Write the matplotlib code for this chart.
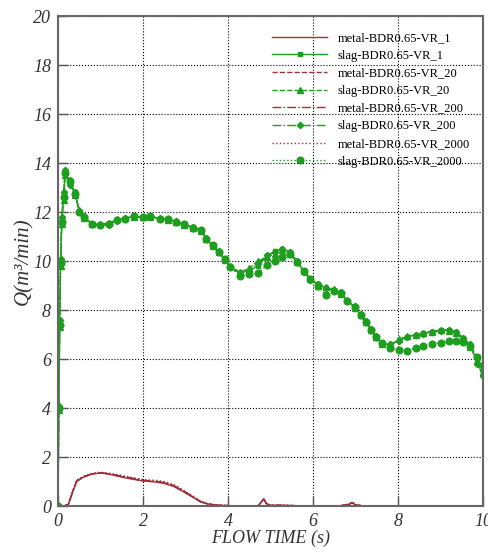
import matplotlib
matplotlib.use("Agg")
import matplotlib.pyplot as plt

# slag flow rate, Q (m3/min) vs flow time (s)
slag_t = [0, 0.02, 0.04, 0.06, 0.09, 0.13, 0.17, 0.28, 0.4, 0.5, 0.62, 0.81, 1.0, 1.2,
          1.38, 1.58, 1.78, 1.99, 2.17, 2.39, 2.58, 2.78, 2.97, 3.18, 3.36, 3.49, 3.64,
          3.78, 3.92, 4.04, 4.28, 4.5, 4.7, 4.92, 5.1, 5.28, 5.45, 5.63, 5.79, 5.94, 6.12,
          6.3, 6.5, 6.65, 6.81, 6.98, 7.12, 7.24, 7.36, 7.48, 7.63, 7.81, 8.03, 8.22, 8.42,
          8.6, 8.81, 9.01, 9.2, 9.36, 9.54, 9.7, 9.87, 10.0]
slag_vr1 = [0, 4.0, 7.5, 10.0, 11.7, 12.7, 13.6, 13.2, 12.8, 12.0, 11.8, 11.5, 11.45, 11.5,
            11.67, 11.73, 11.84, 11.77, 11.84, 11.73, 11.7, 11.6, 11.5, 11.37, 11.27, 10.9, 10.65,
            10.38, 10.08, 9.77, 9.52, 9.6, 9.8, 10.2, 10.4, 10.5, 10.35, 9.97, 9.56, 9.25, 9.05,
            8.91, 8.82, 8.71, 8.38, 8.13, 7.8, 7.52, 7.21, 6.91, 6.64, 6.57, 6.78, 6.91, 6.98,
            7.05, 7.11, 7.18, 7.18, 7.11, 6.84, 6.57, 5.82, 5.35]
slag_vr20 = [0, 3.9, 7.3, 9.8, 11.5, 12.5, 13.5, 13.3, 12.7, 12.1, 11.75, 11.5, 11.5, 11.55,
             11.7, 11.75, 11.8, 11.8, 11.8, 11.75, 11.68, 11.58, 11.48, 11.35, 11.22, 10.88, 10.6,
             10.35, 10.05, 9.8, 9.55, 9.7, 10.0, 10.15, 10.3, 10.45, 10.3, 9.95, 9.6, 9.28, 9.0,
             8.95, 8.85, 8.65, 8.4, 8.1, 7.78, 7.5, 7.2, 6.9, 6.62, 6.55, 6.8, 6.95, 7.0,
             7.08, 7.12, 7.2, 7.15, 7.05, 6.8, 6.5, 5.9, 5.45]
slag_vr200 = [0, 4.1, 7.6, 10.1, 11.8, 12.8, 13.7, 13.1, 12.8, 12.05, 11.82, 11.52, 11.45, 11.48,
              11.65, 11.75, 11.82, 11.78, 11.82, 11.72, 11.7, 11.62, 11.5, 11.38, 11.25, 10.92, 10.62,
              10.4, 10.1, 9.75, 9.5, 9.62, 9.9, 10.25, 10.35, 10.48, 10.38, 10.0, 9.55, 9.22, 9.08,
              8.9, 8.8, 8.72, 8.35, 8.15, 7.82, 7.55, 7.22, 6.92, 6.65, 6.6, 6.75, 6.9, 7.0,
              7.02, 7.1, 7.15, 7.2, 7.12, 6.86, 6.6, 5.8, 5.3]
slag_vr2000 = [0, 4.0, 7.4, 9.9, 11.6, 12.6, 13.6, 13.25, 12.75, 12.0, 11.8, 11.5, 11.45, 11.5,
               11.68, 11.72, 11.85, 11.78, 11.85, 11.72, 11.7, 11.6, 11.5, 11.36, 11.26, 10.9, 10.65,
               10.38, 10.08, 9.77, 9.39, 9.45, 9.5, 9.84, 10.0, 10.18, 10.3, 9.98, 9.58, 9.25, 9.0,
               8.6, 8.78, 8.7, 8.38, 8.12, 7.8, 7.52, 7.2, 6.9, 6.64, 6.43, 6.38, 6.34, 6.45,
               6.53, 6.62, 6.67, 6.72, 6.75, 6.68, 6.53, 6.1, 5.75]

# metal flow rate
metal_t = [0, 0.12, 0.24, 0.35, 0.44, 0.6, 0.8, 0.99, 1.2, 1.5, 1.8, 2.01, 2.3, 2.5, 2.72,
           2.9, 3.03, 3.2, 3.35, 3.5, 3.66, 3.8, 3.97, 4.2, 4.5, 4.7, 4.8, 4.84, 4.9, 5.0,
           5.2, 5.5, 5.8, 6.2, 6.6, 6.85, 6.92, 7.0, 7.2, 7.6, 8.0, 9.0, 10.0]
metal_vr1 = [0, 0, 0.05, 0.6, 1.0, 1.18, 1.3, 1.35, 1.3, 1.18, 1.08, 1.02, 0.98, 0.92, 0.8,
             0.63, 0.5, 0.33, 0.17, 0.09, 0.05, 0.03, 0.02, 0, 0, 0, 0.18, 0.3, 0.1, 0.03,
             0.03, 0.02, 0, 0, 0, 0.07, 0.14, 0.05, 0, 0, 0, 0, 0]
metal_vr20 = [0, 0, 0.06, 0.62, 1.02, 1.2, 1.31, 1.36, 1.31, 1.2, 1.1, 1.03, 1.0, 0.95, 0.83,
              0.66, 0.52, 0.35, 0.18, 0.1, 0.05, 0.03, 0.02, 0, 0, 0, 0.2, 0.31, 0.1, 0.03,
              0.03, 0.02, 0, 0, 0, 0.08, 0.15, 0.05, 0, 0, 0, 0, 0]
metal_vr200 = [0, 0, 0.05, 0.58, 1.04, 1.19, 1.32, 1.36, 1.32, 1.22, 1.12, 1.05, 1.01, 0.96, 0.84,
               0.67, 0.54, 0.36, 0.19, 0.1, 0.05, 0.03, 0.02, 0, 0, 0, 0.19, 0.32, 0.1, 0.03,
               0.03, 0.02, 0, 0, 0, 0.07, 0.14, 0.05, 0, 0, 0, 0, 0]
metal_vr2000 = [0, 0, 0.07, 0.65, 1.06, 1.22, 1.33, 1.38, 1.34, 1.25, 1.15, 1.08, 1.05, 1.0, 0.88,
                0.7, 0.56, 0.38, 0.2, 0.11, 0.06, 0.04, 0.02, 0, 0, 0, 0.2, 0.3, 0.1, 0.03,
                0.03, 0.02, 0, 0, 0, 0.08, 0.15, 0.05, 0, 0, 0, 0, 0]

labels_metal = ["metal-BDR0.65-VR_1", "metal-BDR0.65-VR_20",
                "metal-BDR0.65-VR_200", "metal-BDR0.65-VR_2000"]
labels_slag = ["slag-BDR0.65-VR_1", "slag-BDR0.65-VR_20",
               "slag-BDR0.65-VR_200", "slag-BDR0.65-VR_2000"]

RED = "#9e2f3c"
GREEN = "#1e9e1e"
SERIF = "Liberation Serif"

fig = plt.figure(figsize=(4.89, 5.54), dpi=100)
ax = fig.add_axes([0.1186, 0.0866, 0.8691, 0.8845])

metal_series = [metal_vr1, metal_vr20, metal_vr200, metal_vr2000]
slag_series = [slag_vr1, slag_vr20, slag_vr200, slag_vr2000]
styles = ["-", "--", "-.", ":"]
markers = ["s", "^", "D", "o"]
msizes = [3.2, 3.8, 3.2, 4.8]

for i in range(4):
    ax.plot(metal_t, metal_series[i], color=RED, ls=styles[i], lw=1.0,
            label=labels_metal[i])
    ax.plot(slag_t, slag_series[i], color=GREEN, ls=styles[i], lw=1.0,
            marker=markers[i], ms=msizes[i], mec=GREEN, mfc=GREEN,
            label=labels_slag[i])

ax.set_xlim(0, 10)
ax.set_ylim(0, 20)
ax.set_xticks(range(0, 11, 2))
ax.set_yticks(range(0, 21, 2))
ax.grid(True, color="black", ls=":", lw=0.8)
ax.set_axisbelow(True)
ax.tick_params(direction="in", length=7, width=1, color="#555555", pad=5)
for lab in ax.get_xticklabels() + ax.get_yticklabels():
    lab.set_family(SERIF)
    lab.set_style("italic")
    lab.set_fontsize(13)
    lab.set_color("#333333")
for sp in ax.spines.values():
    sp.set_color("#666666")
    sp.set_linewidth(1.5)

ax.set_xlabel("FLOW TIME (s)", family=SERIF, style="italic", fontsize=13,
              color="#333333", labelpad=0)
ax.set_ylabel("Q(m³/min)", family=SERIF, style="italic", fontsize=15,
              color="#333333", labelpad=0)

handles, labels = ax.get_legend_handles_labels()
leg = ax.legend(handles, labels, loc="upper right", bbox_to_anchor=(0.995, 0.99),
                frameon=False, prop={"family": SERIF, "size": 9},
                handlelength=4.4, handletextpad=0.8, labelspacing=0.45,
                numpoints=1)

fig.savefig("out.png", dpi=100)
